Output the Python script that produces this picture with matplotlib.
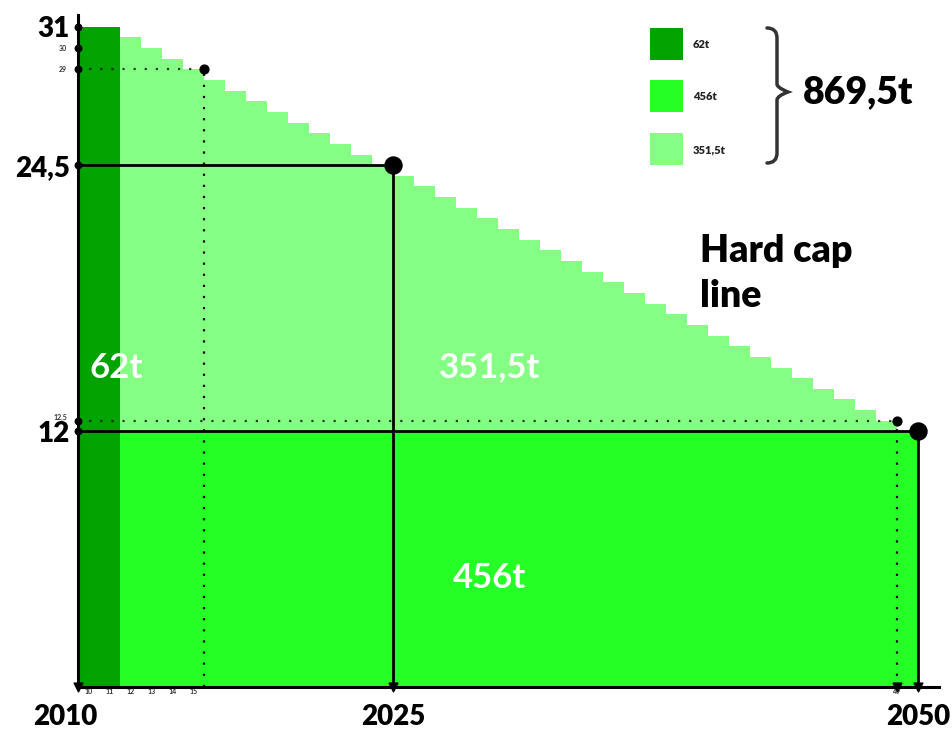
import matplotlib
matplotlib.use("Agg")
import matplotlib.pyplot as plt
from matplotlib.path import Path
from matplotlib.patches import PathPatch, Rectangle
from matplotlib.transforms import ScaledTranslation

# ---------------- data ----------------
early_years = [2010, 2011]
early_values = [31, 31]

cap_years = list(range(2012, 2050))
hard_cap = [30.5, 30.0, 29.5, 29.0, 28.5, 28.0, 27.5, 27.0, 26.5, 26.0,
            25.5, 25.0, 24.5, 24.0, 23.5, 23.0, 22.5, 22.0, 21.5, 21.0,
            20.5, 20.0, 19.5, 19.0, 18.5, 18.0, 17.5, 17.0, 16.5, 16.0,
            15.5, 15.0, 14.5, 14.0, 13.5, 13.0, 12.5, 12.0]
base_level = 12

y_ticks = [31, 24.5, 12]
y_tick_labels = ["31", "24,5", "12"]
y_minor = [30, 29, 12.5]
y_minor_labels = ["30", "29", "12,5"]
x_ticks = [2010, 2025, 2050]
x_tick_labels = ["2010", "2025", "2050"]
x_minor = [2010.5, 2011.5, 2012.5, 2013.5, 2014.5, 2015.5, 2049]
x_minor_labels = ["10", "11", "12", "13", "14", "15", "49"]

solid_points_x = [2025, 2050]
solid_points_y = [24.5, 12]
dotted_points_x = [2016, 2049]
dotted_points_y = [29, 12.5]

legend_labels = ["62t", "456t", "351,5t"]
area_labels = ["62t", "456t", "351,5t"]
total_label = "869,5t"

c_dark = "#00a300"
c_bright = "#26ff26"
c_light = "#84ff84"

FONT = ["Lato", "DejaVu Sans"]
plt.rcParams["font.family"] = FONT

W, H = 953, 733
fig = plt.figure(figsize=(W / 100, H / 100), dpi=100)
ax = fig.add_axes([78 / W, 46 / H, 861 / W, 672 / H])
ax.set_xlim(2010, 2051)
ax.set_ylim(0, 31.55)

# bars
ax.bar(early_years, early_values, width=1.0, align="edge", color=c_dark,
       linewidth=0, zorder=1)
ax.bar(cap_years, [base_level] * len(cap_years), width=1.0, align="edge",
       color=c_bright, linewidth=0, zorder=1)
ax.bar(cap_years, [v - base_level for v in hard_cap], bottom=base_level,
       width=1.0, align="edge", color=c_light, linewidth=0, zorder=1)

# reference lines
x0 = ax.get_xlim()[0]
for px, py in zip(solid_points_x, solid_points_y):
    ax.plot([x0, px], [py, py], color="black", lw=2, zorder=3,
            solid_capstyle="butt")
    ax.plot([px, px], [0, py], color="black", lw=2, zorder=3,
            solid_capstyle="butt")
ax.scatter(solid_points_x, solid_points_y, s=150, color="black", zorder=5)
for px, py in zip(dotted_points_x, dotted_points_y):
    ax.plot([x0, px], [py, py], color="black", lw=1.6, ls=(0, (1, 4)),
            zorder=3, alpha=0.75)
    ax.plot([px, px], [0, py], color="black", lw=1.6, ls=(0, (1, 4)),
            zorder=3)
ax.scatter(dotted_points_x, dotted_points_y, s=40, color="black", zorder=5)

# small markers on the axes
ax.scatter([x0] * (len(y_ticks) + len(y_minor)), y_ticks + y_minor, s=22,
           color="black", zorder=6, clip_on=False)
ax.scatter(x_ticks + [2049], [0] * 4, s=40, color="black", zorder=6,
           clip_on=False, marker="v")

# spines
for s in ["top", "right"]:
    ax.spines[s].set_visible(False)
for s in ["left", "bottom"]:
    ax.spines[s].set_linewidth(2.2)
    ax.spines[s].set_color("black")
    ax.spines[s].set_zorder(4)

ax.set_yticks(y_ticks)
ax.set_yticklabels(y_tick_labels, fontsize=20, fontweight="heavy")
ax.set_yticks(y_minor, minor=True)
ax.set_yticklabels(y_minor_labels, minor=True, fontsize=5, fontweight="bold",
                   color="#333333")
for t in ax.get_yticklabels(minor=True):
    if t.get_text() == "12,5":
        t.set_va("bottom")
ax.set_xticks(x_ticks)
ax.set_xticklabels(x_tick_labels, fontsize=20, fontweight="heavy")
ax.set_xticks(x_minor, minor=True)
ax.set_xticklabels(x_minor_labels, minor=True, fontsize=5, fontweight="bold",
                   color="#333333")
ax.tick_params(axis="y", which="major", length=0, pad=6)
ax.tick_params(axis="y", which="minor", length=0, pad=8)
ax.tick_params(axis="x", which="major", length=0, pad=12)
ax.tick_params(axis="x", which="minor", length=0, pad=1)
first = ax.xaxis.get_major_ticks()[0].label1
first.set_transform(first.get_transform()
                    + ScaledTranslation(-13 / 100, 0, fig.dpi_scale_trans))

# area labels
ax.text(2011.8, 15.0, area_labels[0], color="white", fontsize=25,
        fontweight="bold", ha="center", va="center", zorder=7)
ax.text(2029.6, 15.0, area_labels[2], color="white", fontsize=25,
        fontweight="bold", ha="center", va="center", zorder=7)
ax.text(2029.6, 5.1, area_labels[1], color="white", fontsize=25,
        fontweight="bold", ha="center", va="center", zorder=7)
ax.text(0.722, 0.615, "Hard cap\nline", transform=ax.transAxes, fontsize=27,
        fontweight="heavy", ha="left", va="center", linespacing=1.4)

# legend (manual squares in figure pixels)
sq_tops = [28, 80, 133]
for top, col, lab in zip(sq_tops, (c_dark, c_bright, c_light), legend_labels):
    fig.add_artist(Rectangle((650 / W, 1 - (top + 32) / H), 33 / W, 32 / H,
                             transform=fig.transFigure, facecolor=col,
                             edgecolor="none"))
    fig.text(693 / W, 1 - (top + 17) / H, lab, fontsize=8, fontweight="heavy",
             ha="left", va="center", color="#222222")

# curly brace
def fx(p):
    return p / W

def fy(p):
    return 1 - p / H

verts = [(767, 28), (777, 28), (777, 38),
         (777, 84),
         (777, 88), (788, 92), (788, 92),
         (777, 96), (777, 100),
         (777, 153),
         (777, 163), (767, 163)]
codes = [Path.MOVETO, Path.CURVE3, Path.CURVE3,
         Path.LINETO,
         Path.CURVE4, Path.CURVE4, Path.CURVE4,
         Path.CURVE3, Path.CURVE3,
         Path.LINETO,
         Path.CURVE3, Path.CURVE3]
brace = Path([(fx(a), fy(b)) for a, b in verts], codes)
fig.add_artist(PathPatch(brace, transform=fig.transFigure, fill=False,
                         lw=2.5, edgecolor="#333333", capstyle="round"))
fig.text(803 / W, 1 - 92 / H, total_label, fontsize=27, fontweight="heavy",
         ha="left", va="center")

fig.savefig("out.png", dpi=100)
